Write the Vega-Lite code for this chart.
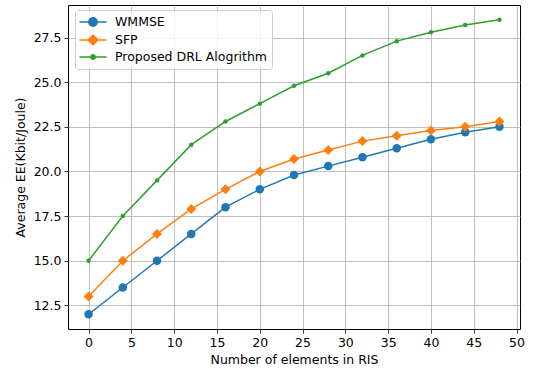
{
  "$schema": "https://vega.github.io/schema/vega-lite/v6.json",
  "autosize": "none",
  "padding": {"left": 68, "top": 5, "right": 18, "bottom": 40},
  "width": 452,
  "height": 324,
  "background": "white",
  "config": {
    "font": "DejaVu Sans",
    "view": {"stroke": "black", "strokeWidth": 1},
    "axis": {
      "domain": false,
      "grid": true,
      "gridColor": "#b0b0b0",
      "gridWidth": 0.8,
      "tickColor": "black",
      "tickWidth": 0.8,
      "tickSize": 4,
      "labelFont": "DejaVu Sans",
      "labelFontSize": 12.5,
      "labelColor": "black",
      "labelPadding": 3,
      "titleFont": "DejaVu Sans",
      "titleFontSize": 12.5,
      "titleFontWeight": "normal",
      "titleColor": "black"
    }
  },
  "data": {
    "values": [
      {"n": 0, "ee": 12.0, "method": "WMMSE"},
      {"n": 4, "ee": 13.5, "method": "WMMSE"},
      {"n": 8, "ee": 15.0, "method": "WMMSE"},
      {"n": 12, "ee": 16.5, "method": "WMMSE"},
      {"n": 16, "ee": 18.0, "method": "WMMSE"},
      {"n": 20, "ee": 19.0, "method": "WMMSE"},
      {"n": 24, "ee": 19.8, "method": "WMMSE"},
      {"n": 28, "ee": 20.3, "method": "WMMSE"},
      {"n": 32, "ee": 20.8, "method": "WMMSE"},
      {"n": 36, "ee": 21.3, "method": "WMMSE"},
      {"n": 40, "ee": 21.8, "method": "WMMSE"},
      {"n": 44, "ee": 22.2, "method": "WMMSE"},
      {"n": 48, "ee": 22.5, "method": "WMMSE"},
      {"n": 0, "ee": 13.0, "method": "SFP"},
      {"n": 4, "ee": 15.0, "method": "SFP"},
      {"n": 8, "ee": 16.5, "method": "SFP"},
      {"n": 12, "ee": 17.9, "method": "SFP"},
      {"n": 16, "ee": 19.0, "method": "SFP"},
      {"n": 20, "ee": 20.0, "method": "SFP"},
      {"n": 24, "ee": 20.7, "method": "SFP"},
      {"n": 28, "ee": 21.2, "method": "SFP"},
      {"n": 32, "ee": 21.7, "method": "SFP"},
      {"n": 36, "ee": 22.0, "method": "SFP"},
      {"n": 40, "ee": 22.3, "method": "SFP"},
      {"n": 44, "ee": 22.5, "method": "SFP"},
      {"n": 48, "ee": 22.8, "method": "SFP"},
      {"n": 0, "ee": 15.0, "method": "Proposed DRL Alogrithm"},
      {"n": 4, "ee": 17.5, "method": "Proposed DRL Alogrithm"},
      {"n": 8, "ee": 19.5, "method": "Proposed DRL Alogrithm"},
      {"n": 12, "ee": 21.5, "method": "Proposed DRL Alogrithm"},
      {"n": 16, "ee": 22.8, "method": "Proposed DRL Alogrithm"},
      {"n": 20, "ee": 23.8, "method": "Proposed DRL Alogrithm"},
      {"n": 24, "ee": 24.8, "method": "Proposed DRL Alogrithm"},
      {"n": 28, "ee": 25.5, "method": "Proposed DRL Alogrithm"},
      {"n": 32, "ee": 26.5, "method": "Proposed DRL Alogrithm"},
      {"n": 36, "ee": 27.3, "method": "Proposed DRL Alogrithm"},
      {"n": 40, "ee": 27.8, "method": "Proposed DRL Alogrithm"},
      {"n": 44, "ee": 28.2, "method": "Proposed DRL Alogrithm"},
      {"n": 48, "ee": 28.5, "method": "Proposed DRL Alogrithm"}
    ]
  },
  "encoding": {
    "x": {
      "field": "n",
      "type": "quantitative",
      "scale": {"domain": [-2.4, 50.4], "nice": false, "zero": false},
      "axis": {"values": [0, 5, 10, 15, 20, 25, 30, 35, 40, 45, 50], "title": "Number of elements in RIS", "titlePadding": 5}
    },
    "y": {
      "field": "ee",
      "type": "quantitative",
      "scale": {"domain": [11.175, 29.325], "nice": false, "zero": false},
      "axis": {"values": [12.5, 15, 17.5, 20, 22.5, 25, 27.5], "format": ".1f", "title": "Average EE(Kbit/Joule)", "titlePadding": 6}
    },
    "color": {
      "field": "method",
      "type": "nominal",
      "scale": {
        "domain": ["WMMSE", "SFP", "Proposed DRL Alogrithm"],
        "range": ["#1f77b4", "#ff7f0e", "#2ca02c"]
      },
      "legend": {
        "title": null,
        "orient": "none",
        "legendX": 7,
        "legendY": 5,
        "padding": 5,
        "cornerRadius": 3,
        "strokeColor": "#cccccc",
        "fillColor": "rgba(255,255,255,0.8)",
        "labelFont": "DejaVu Sans",
        "labelFontSize": 12.5,
        "labelColor": "black",
        "symbolSize": 144,
        "symbolStrokeWidth": 1.5,
        "symbolOffset": 6,
        "labelOffset": 15,
        "rowPadding": 2,
        "encode": {
          "symbols": {
            "update": {
              "shape": {"signal": "datum.value === 'SFP' ? 'M-2.25,0H2.25M0,-0.83L0.83,0L0,0.83L-0.83,0Z' : (datum.value === 'WMMSE' ? 'M-2.25,0H2.25M0.7,0A0.7,0.7,0,1,1,-0.7,0A0.7,0.7,0,1,1,0.7,0Z' : 'M-2.25,0H2.25M0.37,0A0.37,0.37,0,1,1,-0.37,0A0.37,0.37,0,1,1,0.37,0Z')"},
              "fill": {"scale": "color", "field": "value"},
              "stroke": {"scale": "color", "field": "value"},
              "strokeWidth": {"value": 1.5},
              "size": {"value": 144},
              "opacity": {"value": 1}
            }
          }
        }
      }
    }
  },
  "layer": [
    {
      "mark": {"type": "line", "strokeWidth": 1.5}
    },
    {
      "transform": [{"filter": "datum.method === 'WMMSE'"}],
      "mark": {"type": "point", "filled": true, "opacity": 1, "shape": "circle", "size": 72}
    },
    {
      "transform": [{"filter": "datum.method === 'SFP'"}],
      "mark": {"type": "point", "filled": true, "opacity": 1, "shape": "diamond", "size": 100}
    },
    {
      "transform": [{"filter": "datum.method === 'Proposed DRL Alogrithm'"}],
      "mark": {"type": "point", "filled": true, "opacity": 1, "shape": "circle", "size": 20}
    }
  ]
}
